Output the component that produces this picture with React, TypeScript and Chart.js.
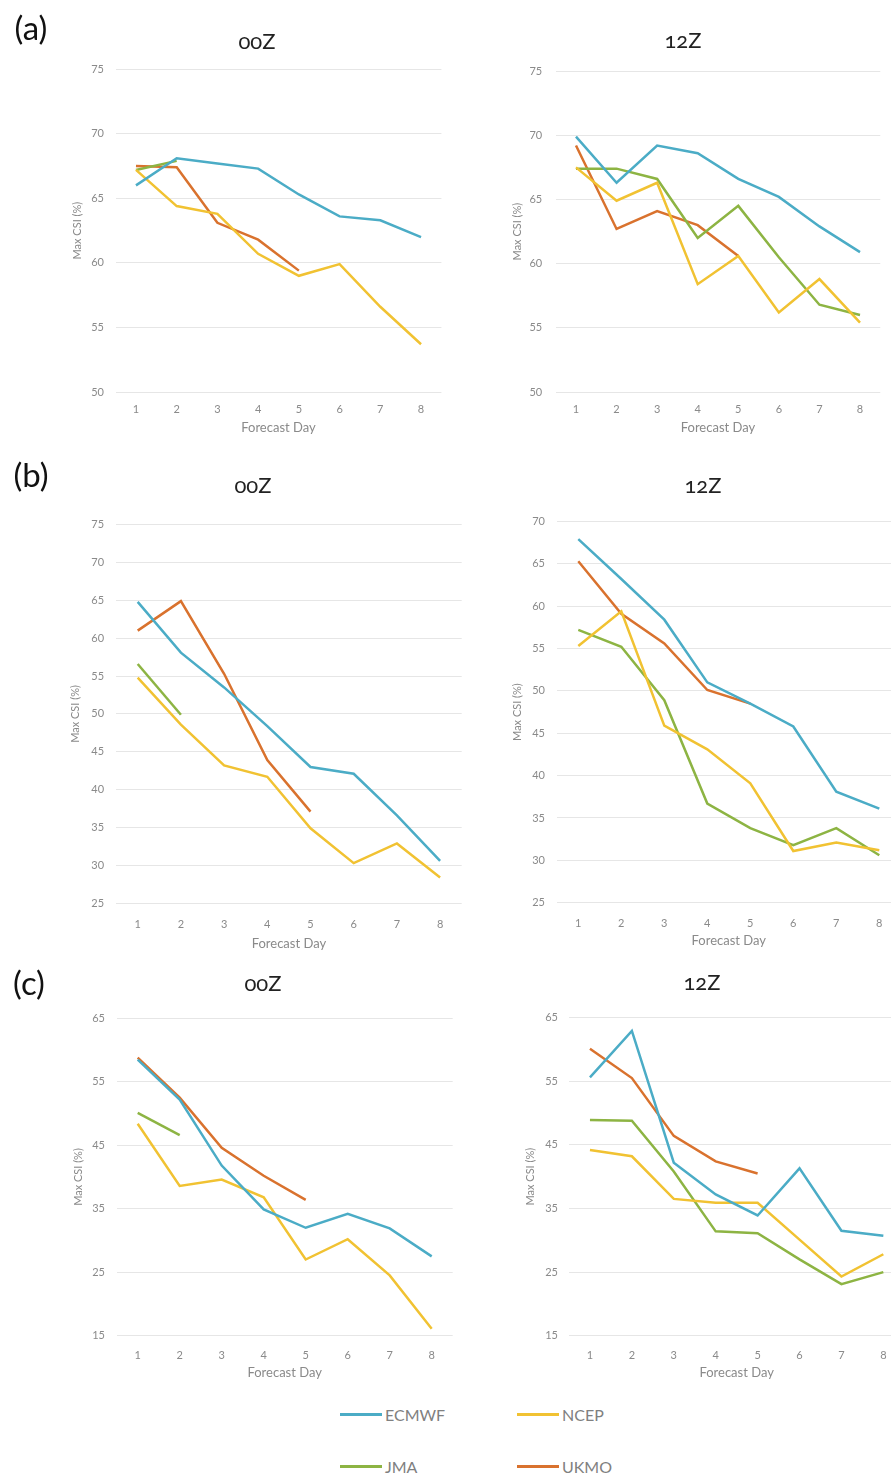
import React, { useEffect, useRef } from "react";
import { Chart, registerables } from "chart.js";

Chart.register(...registerables);

// ---------- data ----------
const days = ["1", "2", "3", "4", "5", "6", "7", "8"];
const seriesNames = ["ECMWF", "NCEP", "JMA", "UKMO"];
const seriesColors = ["#4bacc6", "#f1c232", "#8db443", "#d9722e"];

// (a) 00Z
const a00_ECMWF = [66.0, 68.1, 67.7, 67.3, 65.3, 63.6, 63.3, 62.0];
const a00_NCEP = [67.2, 64.4, 63.8, 60.7, 59.0, 59.9, 56.6, 53.7];
const a00_JMA = [67.2, 67.9];
const a00_UKMO = [67.5, 67.4, 63.1, 61.8, 59.4];
// (a) 12Z
const a12_ECMWF = [69.9, 66.3, 69.2, 68.6, 66.6, 65.2, 62.9, 60.9];
const a12_NCEP = [67.5, 64.9, 66.3, 58.4, 60.6, 56.2, 58.8, 55.4];
const a12_JMA = [67.4, 67.4, 66.6, 62.0, 64.5, 60.5, 56.8, 56.0];
const a12_UKMO = [69.2, 62.7, 64.1, 63.0, 60.6];
// (b) 00Z
const b00_ECMWF = [64.8, 58.1, 53.5, 48.4, 43.0, 42.1, 36.6, 30.6];
const b00_NCEP = [54.8, 48.6, 43.2, 41.7, 34.9, 30.3, 32.9, 28.4];
const b00_JMA = [56.6, 49.9];
const b00_UKMO = [61.0, 64.9, 55.3, 43.9, 37.1];
// (b) 12Z
const b12_ECMWF = [67.9, 63.2, 58.4, 51.0, 48.5, 45.8, 38.1, 36.1];
const b12_NCEP = [55.3, 59.4, 45.9, 43.1, 39.1, 31.1, 32.1, 31.2];
const b12_JMA = [57.2, 55.2, 48.9, 36.7, 33.8, 31.8, 33.8, 30.6];
const b12_UKMO = [65.3, 59.1, 55.6, 50.1, 48.5];
// (c) 00Z
const c00_ECMWF = [58.5, 52.2, 41.8, 34.9, 32.0, 34.2, 31.9, 27.5];
const c00_NCEP = [48.4, 38.6, 39.6, 36.8, 27.0, 30.2, 24.5, 16.1];
const c00_JMA = [50.1, 46.6];
const c00_UKMO = [58.8, 52.5, 44.6, 40.2, 36.4];
// (c) 12Z
const c12_ECMWF = [55.6, 62.9, 42.2, 37.2, 33.9, 41.3, 31.5, 30.7];
const c12_NCEP = [44.2, 43.2, 36.5, 35.9, 35.9, 30.1, 24.3, 27.8];
const c12_JMA = [48.9, 48.8, 40.8, 31.4, 31.1, 27.0, 23.1, 25.0];
const c12_UKMO = [60.1, 55.5, 46.4, 42.4, 40.5];

// y-axis ranges [min, max, step]
const yRangeA = [50, 75, 5];
const yRangeB00 = [25, 75, 5];
const yRangeB12 = [25, 70, 5];
const yRangeC = [15, 65, 10];

const panelLabels = ["(a)", "(b)", "(c)"];
const runTitles = ["00Z", "12Z"];
const xTitle = "Forecast Day";
const yTitle = "Max CSI (%)";

// ---------- layout ----------
type PanelSpec = {
  title: string;
  series: number[][];
  range: number[];
  scaleLeft: number;
  chartLeft: number;
  chartRight: number;
  chartTop: number;
  chartBottom: number;
  yPad: number;
  xTickY: number;
  xTitleY: number;
  titleX: number;
  titleY: number;
};

const panels: PanelSpec[] = [
  { title: runTitles[0], series: [a00_ECMWF, a00_NCEP, a00_JMA, a00_UKMO], range: yRangeA,
    scaleLeft: 71, chartLeft: 115.6, chartRight: 441.4, chartTop: 59, chartBottom: 392,
    yPad: 11.6, xTickY: 408, xTitleY: 428, titleX: 257, titleY: 41 },
  { title: runTitles[1], series: [a12_ECMWF, a12_NCEP, a12_JMA, a12_UKMO], range: yRangeA,
    scaleLeft: 511, chartLeft: 555.7, chartRight: 880.3, chartTop: 59, chartBottom: 392,
    yPad: 13.5, xTickY: 408, xTitleY: 428, titleX: 683, titleY: 40 },
  { title: runTitles[0], series: [b00_ECMWF, b00_NCEP, b00_JMA, b00_UKMO], range: yRangeB00,
    scaleLeft: 69, chartLeft: 116.1, chartRight: 461.7, chartTop: 514.3, chartBottom: 903.3,
    yPad: 12, xTickY: 923, xTitleY: 944, titleX: 253, titleY: 485 },
  { title: runTitles[1], series: [b12_ECMWF, b12_NCEP, b12_JMA, b12_UKMO], range: yRangeB12,
    scaleLeft: 511, chartLeft: 556.8, chartRight: 900.8, chartTop: 511, chartBottom: 902.7,
    yPad: 11.8, xTickY: 921.7, xTitleY: 940.7, titleX: 703, titleY: 485 },
  { title: runTitles[0], series: [c00_ECMWF, c00_NCEP, c00_JMA, c00_UKMO], range: yRangeC,
    scaleLeft: 72, chartLeft: 116.7, chartRight: 452.7, chartTop: 1007.7, chartBottom: 1335.7,
    yPad: 11.7, xTickY: 1354, xTitleY: 1373.3, titleX: 263, titleY: 983 },
  { title: runTitles[1], series: [c12_ECMWF, c12_NCEP, c12_JMA, c12_UKMO], range: yRangeC,
    scaleLeft: 524, chartLeft: 569, chartRight: 904.3, chartTop: 1007.7, chartBottom: 1335.7,
    yPad: 11, xTickY: 1354, xTitleY: 1373.3, titleX: 702, titleY: 982 },
];

const FONT = "Lato, 'Open Sans', sans-serif";
const TICK_SIZE = 11;
const XTITLE_SIZE = 13;
const YTITLE_SIZE = 11;
const GRAY = "#8a8a8a";

function Panel({ spec }: { spec: PanelSpec }) {
  const ref = useRef<HTMLCanvasElement>(null);
  const padTop = 8;
  const padRight = 4;
  const containerTop = Math.round(spec.chartTop - padTop);
  const realPadTop = spec.chartTop - containerTop;
  const yw = spec.chartLeft - spec.scaleLeft;
  const xh = spec.xTitleY + (XTITLE_SIZE * 1.2) / 2 - spec.chartBottom;
  const width = Math.ceil(yw + (spec.chartRight - spec.chartLeft) + padRight);
  const rightPad = width - yw - (spec.chartRight - spec.chartLeft);
  const height = Math.ceil(realPadTop + (spec.chartBottom - spec.chartTop) + xh);
  const bottomPad = height - (realPadTop + (spec.chartBottom - spec.chartTop) + xh);
  const xTickPad = Math.max(0, spec.xTickY - spec.chartBottom - TICK_SIZE * 1.2);

  useEffect(() => {
    const chart = new Chart(ref.current as HTMLCanvasElement, {
      type: "line",
      data: {
        labels: days,
        datasets: spec.series.map((vals, i) => ({
          label: seriesNames[i],
          data: vals,
          borderColor: seriesColors[i],
          backgroundColor: seriesColors[i],
          borderWidth: 2.5,
          pointRadius: 0,
          tension: 0,
          fill: false,
        })),
      },
      options: {
        responsive: false,
        animation: false,
        devicePixelRatio: 1,
        layout: { padding: { left: 0, top: realPadTop, right: rightPad, bottom: bottomPad } },
        plugins: { legend: { display: false }, title: { display: false }, tooltip: { enabled: false } },
        scales: {
          x: {
            type: "category",
            offset: true,
            grid: { display: false },
            border: { display: false },
            ticks: { color: GRAY, font: { family: FONT, size: TICK_SIZE }, padding: xTickPad, maxRotation: 0 },
            title: { display: true, text: xTitle, color: GRAY, font: { family: FONT, size: XTITLE_SIZE }, padding: 0 },
            afterFit: (s: any) => { s.height = xh; },
          },
          y: {
            min: spec.range[0],
            max: spec.range[1],
            grid: { color: "#e6e6e6", lineWidth: 1, drawTicks: false },
            border: { display: false },
            ticks: { stepSize: spec.range[2], color: GRAY, font: { family: FONT, size: TICK_SIZE }, padding: spec.yPad },
            title: { display: true, text: yTitle, color: GRAY, font: { family: FONT, size: YTITLE_SIZE }, padding: 0 },
            afterFit: (s: any) => { s.width = yw; },
          },
        },
      },
    } as any);
    return () => chart.destroy();
  }, []);

  return (
    <div style={{ position: "absolute", left: spec.scaleLeft, top: containerTop, width, height }}>
      <canvas ref={ref} width={width} height={height} style={{ display: "block" }} />
    </div>
  );
}

function CenterText({ x, y, text, size, color, style }: any) {
  return (
    <div
      style={{
        position: "absolute",
        left: x - 100,
        top: y - size,
        width: 200,
        height: size * 2,
        display: "flex",
        alignItems: "center",
        justifyContent: "center",
        fontFamily: FONT,
        fontSize: size,
        color,
        lineHeight: 1,
        whiteSpace: "nowrap",
        ...style,
      }}
    >
      {text}
    </div>
  );
}

const legendItems = [
  { name: seriesNames[0], color: seriesColors[0], x: 340, y: 1414 },
  { name: seriesNames[1], color: seriesColors[1], x: 517, y: 1414 },
  { name: seriesNames[2], color: seriesColors[2], x: 340, y: 1466 },
  { name: seriesNames[3], color: seriesColors[3], x: 517, y: 1466 },
];

export default function App() {
  return (
    <div style={{ position: "absolute", left: 0, top: 0, width: 891, height: 1476, overflow: "hidden", background: "#fff" }}>
      {panels.map((p, i) => (
        <Panel key={i} spec={p} />
      ))}
      {panels.map((p, i) => (
        <CenterText key={"t" + i} x={p.titleX} y={p.titleY} text={p.title} size={22} color="#222"
          style={{ fontVariantNumeric: "oldstyle-nums" }} />
      ))}
      <CenterText x={31} y={27} text={panelLabels[0]} size={33} color="#111" />
      <CenterText x={31} y={474} text={panelLabels[1]} size={33} color="#111" />
      <CenterText x={29} y={982} text={panelLabels[2]} size={33} color="#111" />
      {legendItems.map((it) => (
        <div key={it.name} style={{ position: "absolute", left: it.x, top: it.y - 12, height: 24, display: "flex", alignItems: "center" }}>
          <div style={{ width: 42, height: 3, background: it.color }} />
          <div style={{ marginLeft: 3, fontFamily: FONT, fontSize: 16, color: "#808080" }}>{it.name}</div>
        </div>
      ))}
    </div>
  );
}
